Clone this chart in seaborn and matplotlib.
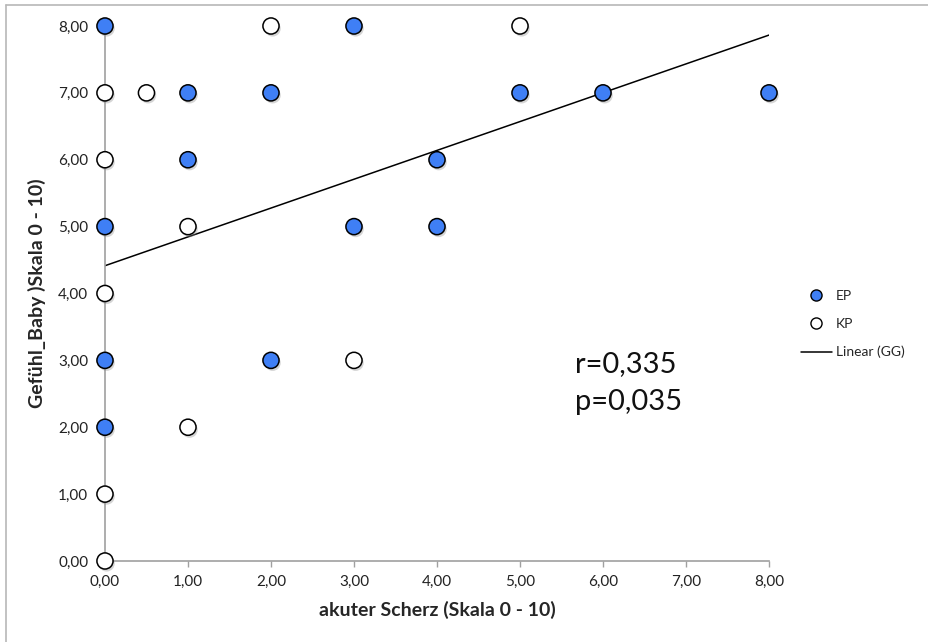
import numpy as np
import pandas as pd
import matplotlib
matplotlib.use("Agg")
import matplotlib.pyplot as plt
import matplotlib.patheffects as pe
from matplotlib.lines import Line2D
import seaborn as sns

# EP group
ep_x = [0, 3, 1, 2, 5, 6, 8, 1, 4, 0, 3, 4, 0, 2, 0]
ep_y = [8, 8, 7, 7, 7, 7, 7, 6, 6, 5, 5, 5, 3, 3, 2]
# KP group
kp_x = [2, 5, 0, 0.5, 0, 1, 0, 3, 0, 0, 1]
kp_y = [8, 8, 7, 7, 6, 5, 4, 3, 1, 0, 2]

ticks = [0, 1, 2, 3, 4, 5, 6, 7, 8]
tick_labels = ["0,00", "1,00", "2,00", "3,00", "4,00", "5,00", "6,00", "7,00", "8,00"]
stats_text = "r=0,335\np=0,035"

df = pd.DataFrame({
    "akut": ep_x + kp_x,
    "gefuehl": ep_y + kp_y,
    "gruppe": ["EP"] * len(ep_x) + ["KP"] * len(kp_x),
})

sns.set_theme(style="white")
plt.rcParams["font.family"] = ["Lato", "DejaVu Sans"]

fig = plt.figure(figsize=(9.29, 6.42), dpi=100)
ax = fig.add_axes([0.1130, 0.1262, 0.7148, 0.8333])

blue = "#3f7ff5"
shadow = [pe.SimplePatchShadow(offset=(1.2, -1.8), shadow_rgbFace="#888888", alpha=0.35), pe.Normal()]

# overall linear trend line
sns.regplot(data=df, x="akut", y="gefuehl", scatter=False, ci=None, truncate=True,
            line_kws=dict(color="black", lw=1.1, zorder=2), ax=ax)

for grp, face in [("KP", "white"), ("EP", blue)]:
    sub = df[df["gruppe"] == grp]
    sc = ax.scatter(sub["akut"], sub["gefuehl"], s=135, facecolor=face, edgecolor="black",
                    linewidth=1.1, zorder=3, clip_on=False)
    sc.set_path_effects(shadow)

ax.set_xlim(0, 8)
ax.set_ylim(0, 8)
ax.set_xticks(ticks)
ax.set_xticklabels(tick_labels)
ax.set_yticks(ticks)
ax.set_yticklabels(tick_labels)
ax.tick_params(axis="x", direction="out", length=4, width=1, color="#a0a0a0",
               labelsize=11, pad=6, labelcolor="#222222")
ax.tick_params(axis="y", direction="in", length=4, width=1, color="#a0a0a0",
               labelsize=11, pad=12, labelcolor="#222222")
ax.tick_params(bottom=True, left=True)
for s in ["top", "right"]:
    ax.spines[s].set_visible(False)
for s in ["left", "bottom"]:
    ax.spines[s].set_color("#a0a0a0")
    ax.spines[s].set_linewidth(1.2)

ax.set_xlabel("akuter Scherz (Skala 0 - 10)", fontsize=14, fontweight="bold", labelpad=9)
ax.set_ylabel("Gefühl_Baby )Skala 0 - 10)", fontsize=14, fontweight="bold", labelpad=9)

ax.text(5.66, 2.66, stats_text, fontsize=21, ha="left", va="center", linespacing=1.55,
        color="#111111")

handles = [
    Line2D([], [], marker="o", linestyle="none", markerfacecolor=blue, markeredgecolor="black",
           markersize=8, label="EP"),
    Line2D([], [], marker="o", linestyle="none", markerfacecolor="white", markeredgecolor="black",
           markersize=8, label="KP"),
    Line2D([], [], color="black", lw=1.1, label="Linear (GG)"),
]
fig.legend(handles=handles, loc="center left", bbox_to_anchor=(0.849, 0.495), frameon=False,
           fontsize=10, labelspacing=1.15, handlelength=2.2, handletextpad=0.3)

# frame lines at the top and left of the figure
fig.add_artist(Line2D([6 / 929, 1], [1 - 5 / 642, 1 - 5 / 642], color="#b8b8b8", lw=1.2,
                      transform=fig.transFigure))
fig.add_artist(Line2D([6 / 929, 6 / 929], [0, 1 - 5 / 642], color="#b8b8b8", lw=1.2,
                      transform=fig.transFigure))

fig.savefig("out.png", dpi=100)
